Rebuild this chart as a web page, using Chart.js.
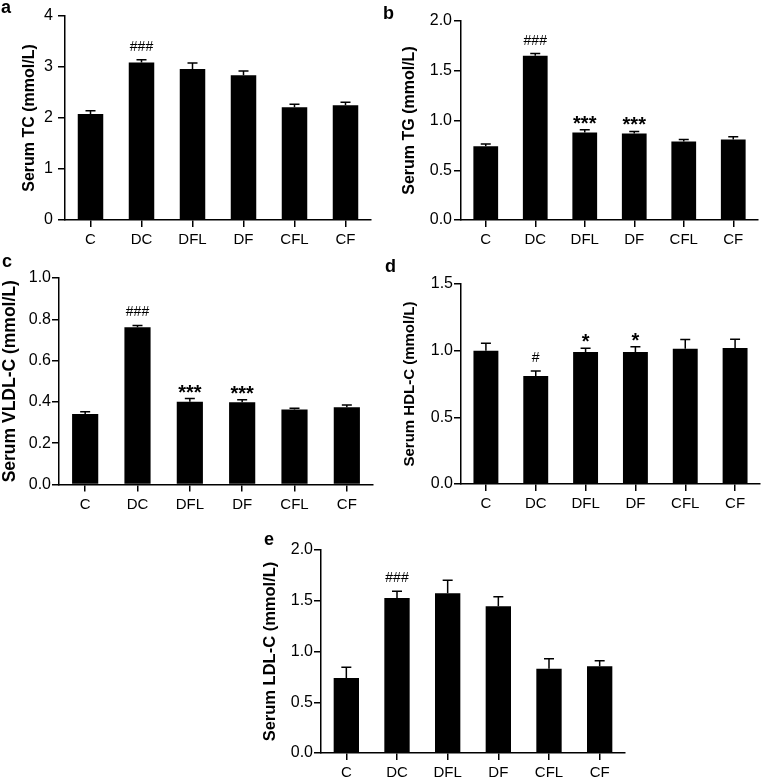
<!DOCTYPE html>
<html>
<head>
<meta charset="utf-8">
<script src="https://cdn.jsdelivr.net/npm/chart.js@4.4.1/dist/chart.umd.min.js"></script>
<style>
  body { margin: 0; background: #fff; }
  #wrap { position: relative; width: 761px; height: 780px; overflow: hidden; background: #fff; }
  #wrap canvas { position: absolute; }
  .tag { position: absolute; font: bold 18px "Liberation Sans", Arial, sans-serif; line-height: 18px; color: #000; }
</style>
</head>
<body>
<div id="wrap">
  <canvas id="tcChart" width="380" height="260" style="left:0;top:0"></canvas>
  <canvas id="tgChart" width="381" height="260" style="left:380px;top:0"></canvas>
  <canvas id="vldlChart" width="380" height="275" style="left:0;top:255px"></canvas>
  <canvas id="hdlChart" width="381" height="275" style="left:380px;top:255px"></canvas>
  <canvas id="ldlChart" width="440" height="280" style="left:190px;top:505px"></canvas>
  <span class="tag" style="left:1px;top:-2px">a</span>
  <span class="tag" style="left:383px;top:4px">b</span>
  <span class="tag" style="left:2px;top:252px">c</span>
  <span class="tag" style="left:385px;top:257px">d</span>
  <span class="tag" style="left:264px;top:530px">e</span>
</div>
<script>
const FONT = '"Liberation Sans", Arial, sans-serif';

const groups = ['C', 'DC', 'DFL', 'DF', 'CFL', 'CF'];

// means and SEM (mmol/L)
const tcMean = [2.08, 3.09, 2.96, 2.84, 2.21, 2.25];
const tcSem = [0.06, 0.05, 0.12, 0.08, 0.06, 0.06];
const tcMarks = ['', '###', '', '', '', ''];
const tcTicks = ['0', '1', '2', '3', '4'];

const tgMean = [0.74, 1.65, 0.88, 0.87, 0.79, 0.81];
const tgSem = [0.023, 0.023, 0.027, 0.02, 0.02, 0.027];
const tgMarks = ['', '###', '***', '***', '', ''];
const tgTicks = ['0.0', '0.5', '1.0', '1.5', '2.0'];

const vldlMean = [0.342, 0.761, 0.401, 0.398, 0.363, 0.374];
const vldlSem = [0.01, 0.009, 0.015, 0.012, 0.006, 0.011];
const vldlMarks = ['', '###', '***', '***', '', ''];
const vldlTicks = ['0.0', '0.2', '0.4', '0.6', '0.8', '1.0'];

const hdlMean = [1.0, 0.81, 0.99, 0.99, 1.015, 1.02];
const hdlSem = [0.055, 0.038, 0.028, 0.04, 0.068, 0.065];
const hdlMarks = ['', '#', '*', '*', '', ''];
const hdlTicks = ['0.0', '0.5', '1.0', '1.5'];

const ldlMean = [0.74, 1.527, 1.573, 1.447, 0.83, 0.854];
const ldlSem = [0.105, 0.066, 0.128, 0.093, 0.099, 0.055];
const ldlMarks = ['', '###', '', '', '', ''];
const ldlTicks = ['0.0', '0.5', '1.0', '1.5', '2.0'];

// error bars (upper half only) + significance marks
const errBars = {
    id: 'errBars',
    afterDatasetsDraw(chart) {
        const ctx = chart.ctx;
        const ds = chart.data.datasets[0];
        const meta = chart.getDatasetMeta(0);
        const y = chart.scales.y;
        ctx.save();
        meta.data.forEach((bar, i) => {
            const top = y.getPixelForValue(ds.data[i] + ds.sem[i]);
            ctx.strokeStyle = '#000';
            ctx.lineWidth = 1.5;
            ctx.beginPath();
            ctx.moveTo(bar.x, bar.y);
            ctx.lineTo(bar.x, top);
            ctx.moveTo(bar.x - 5, top);
            ctx.lineTo(bar.x + 5, top);
            ctx.stroke();

            const mark = ds.marks[i];
            if (!mark) return;
            ctx.fillStyle = '#000';
            ctx.textAlign = 'center';
            ctx.textBaseline = 'alphabetic';
            if (mark[0] === '*') {
                ctx.font = 'bold 20px ' + FONT;
                ctx.fillText(mark, bar.x, top);
            } else {
                ctx.font = '14px ' + FONT;
                ctx.fillText(mark, bar.x, top - 9);
            }
        });
        ctx.restore();
    }
};

const makeChart = (id, mean, sem, marks, ticks, p) => {
    return new Chart(document.getElementById(id), {
        type: 'bar',
        data: {
            labels: groups,
            datasets: [{
                data: mean,
                sem: sem,
                marks: marks,
                backgroundColor: '#000',
                borderWidth: 0,
                barPercentage: 0.5,
                categoryPercentage: 1.0,
            }],
        },
        options: {
            responsive: false,
            animation: false,
            layout: { padding: { top: p.padTop, right: p.padRight, left: 0, bottom: 0 } },
            plugins: { legend: { display: false }, tooltip: { enabled: false } },
            scales: {
                x: {
                    grid: { drawOnChartArea: false, drawTicks: true, tickLength: 7, offset: false, color: '#000', lineWidth: 1.5 },
                    border: { display: true, color: '#000', width: 1.5 },
                    ticks: { color: '#000', font: { family: FONT, size: 15 }, padding: 4, maxRotation: 0, autoSkip: false },
                    afterFit: (s) => { s.height = p.xHeight; },
                },
                y: {
                    min: 0,
                    max: parseFloat(ticks[ticks.length - 1]),
                    grid: { drawOnChartArea: false, drawTicks: true, tickLength: 7, color: '#000', lineWidth: 1.5 },
                    border: { display: true, color: '#000', width: 1.5 },
                    ticks: { color: '#000', font: { family: FONT, size: 16 }, padding: p.tickPad, callback: (v, i) => ticks[i] },
                    afterBuildTicks: (s) => { s.ticks = ticks.map((t) => ({ value: parseFloat(t) })); },
                    afterFit: (s) => { s.width = p.yWidth; },
                    title: {
                        display: true,
                        text: p.title,
                        color: '#000',
                        font: { family: FONT, size: p.titleSize, weight: 'bold' },
                        padding: { top: p.titlePad, bottom: 0 },
                    },
                },
            },
        },
        plugins: [errBars],
    });
};

makeChart('tcChart', tcMean, tcSem, tcMarks, tcTicks,
    { title: 'Serum TC (mmol/L)', titleSize: 16, titlePad: 20.4, yWidth: 65, padTop: 16, padRight: 9, xHeight: 40, tickPad: 5 });
makeChart('tgChart', tgMean, tgSem, tgMarks, tgTicks,
    { title: 'Serum TG (mmol/L)', titleSize: 16, titlePad: 20.4, yWidth: 81, padTop: 21, padRight: 3, xHeight: 40, tickPad: 2 });
makeChart('vldlChart', vldlMean, vldlSem, vldlMarks, vldlTicks,
    { title: 'Serum VLDL-C (mmol/L)', titleSize: 17.5, titlePad: 0, yWidth: 59, padTop: 23, padRight: 7, xHeight: 45.5, tickPad: 1 });
makeChart('hdlChart', hdlMean, hdlSem, hdlMarks, hdlTicks,
    { title: 'Serum HDL-C (mmol/L)', titleSize: 15, titlePad: 21, yWidth: 81, padTop: 29, padRight: 1, xHeight: 46, tickPad: 1 });
makeChart('ldlChart', ldlMean, ldlSem, ldlMarks, ldlTicks,
    { title: 'Serum LDL-C (mmol/L)', titleSize: 16.5, titlePad: 71, yWidth: 131, padTop: 45, padRight: 5, xHeight: 32, tickPad: 1 });
</script>
</body>
</html>
